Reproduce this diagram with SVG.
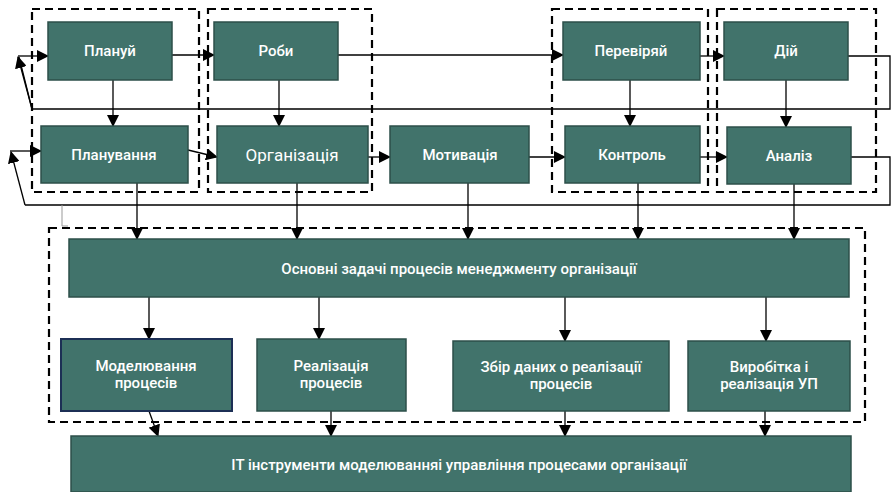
<svg xmlns="http://www.w3.org/2000/svg" width="891" height="492" viewBox="0 0 891 492">
<defs>
<marker id="ah" markerWidth="12" markerHeight="12" refX="11" refY="6" orient="auto" markerUnits="userSpaceOnUse">
<path d="M0,0 L12,6 L0,12 Z" fill="#000"/>
</marker>
<style>
.n{fill:#41736b;stroke:#2c4f49;stroke-width:1.5}
.t{fill:#fff;font-family:Roboto,"Noto Sans","Liberation Sans",sans-serif;font-size:15px;font-weight:500;text-anchor:middle}
.c{fill:none;stroke:#000;stroke-width:1.3}
.a{fill:none;stroke:#000;stroke-width:1.3;marker-end:url(#ah)}
.d{fill:none;stroke:#000;stroke-width:2.2;stroke-dasharray:8 5}
</style>
</defs>
<rect width="891" height="492" fill="#fff"/>
<g id="groups">
<rect class="d" x="32" y="9" width="167" height="183"/>
<rect class="d" x="208" y="9" width="164" height="183"/>
<rect class="d" x="552" y="9" width="156" height="183"/>
<rect class="d" x="717" y="9" width="159" height="183"/>
<rect class="d" x="49" y="228" width="816" height="194"/>
</g>
<g id="connectors">
<path class="a" d="M172,55 H214"/>
<path class="a" d="M338,55 H563"/>
<path class="a" d="M700,56 H724"/>
<path class="c" d="M848,56 H890 V109 H32 L19,57"/>
<path class="a" d="M32,109 L18,57"/>
<path class="a" d="M18,56 H48"/>
<path class="a" d="M113,80 V126"/>
<path class="a" d="M279,80 V126"/>
<path class="a" d="M630,80 V126"/>
<path class="a" d="M786,80 V127"/>
<path class="a" d="M188,150 L217,157"/>
<path class="a" d="M368,157 H390"/>
<path class="a" d="M529,157 H565"/>
<path class="a" d="M700,157 H727"/>
<path class="c" d="M851,157 H890 V205 H25"/>
<path class="a" d="M25,205 L11,152"/>
<path class="a" d="M10,151 H41"/>
<path d="M62,205 V226 H68" fill="none" stroke="#999" stroke-width="1"/>
<path class="a" d="M137,183 V239"/>
<path class="a" d="M297,183 V239"/>
<path class="a" d="M468,183 V239"/>
<path class="a" d="M638,183 V239"/>
<path class="a" d="M794,184 V239"/>
<path class="a" d="M149,297 V339"/>
<path class="a" d="M319,297 V339"/>
<path class="a" d="M565,297 V341"/>
<path class="a" d="M766,297 V341"/>
<path class="a" d="M149,411 L158,436"/>
<path class="a" d="M331,411 V436"/>
<path class="a" d="M565,411 V436"/>
<path class="a" d="M765,411 V436"/>
</g>
<g id="n-planui"><rect class="n" x="48" y="22" width="124" height="58"/><text class="t" x="110" y="56">Плануй</text></g>
<g id="n-robi"><rect class="n" x="214" y="22" width="124" height="58"/><text class="t" x="276" y="56">Роби</text></g>
<g id="n-pereviriai"><rect class="n" x="563" y="22" width="137" height="58"/><text class="t" x="631" y="56">Перевіряй</text></g>
<g id="n-dii"><rect class="n" x="724" y="22" width="124" height="58"/><text class="t" x="786" y="56">Дій</text></g>
<g id="n-planuvannia"><rect class="n" x="41" y="126" width="147" height="57"/><text class="t" x="114" y="160">Планування</text></g>
<g id="n-orhanizatsiia"><rect class="n" x="217" y="126" width="151" height="57"/><text class="t" x="292" y="161" style="font-size:17px;font-weight:400">Організація</text></g>
<g id="n-motyvatsiia"><rect class="n" x="390" y="126" width="139" height="57"/><text class="t" x="460" y="160">Мотивація</text></g>
<g id="n-kontrol"><rect class="n" x="565" y="126" width="135" height="57"/><text class="t" x="632" y="160">Контроль</text></g>
<g id="n-analiz"><rect class="n" x="727" y="127" width="124" height="57"/><text class="t" x="789" y="161">Аналіз</text></g>
<g id="n-osnovni"><rect class="n" x="69" y="239" width="780" height="58"/><text class="t" x="459" y="274">Основні задачі процесів менеджменту організації</text></g>
<g id="n-modeliuvannia"><rect class="n" x="61" y="339" width="171" height="72" style="stroke:#1c2f55;stroke-width:2"/><text class="t" x="146" y="371">Моделювання</text><text class="t" x="146" y="388">процесів</text></g>
<g id="n-realizatsiia"><rect class="n" x="257" y="339" width="149" height="72"/><text class="t" x="331" y="371">Реалізація</text><text class="t" x="331" y="388">процесів</text></g>
<g id="n-zbir"><rect class="n" x="453" y="341" width="216" height="70"/><text class="t" x="561" y="372">Збір даних о реалізації</text><text class="t" x="561" y="389">процесів</text></g>
<g id="n-vyrobitka"><rect class="n" x="688" y="341" width="162" height="70"/><text class="t" x="769" y="372">Виробітка і</text><text class="t" x="769" y="389">реалізація УП</text></g>
<g id="n-it"><rect class="n" x="71" y="436" width="780" height="56"/><text class="t" x="459" y="470">IT інструменти моделюванняі управління процесами організації</text></g>
</svg>
